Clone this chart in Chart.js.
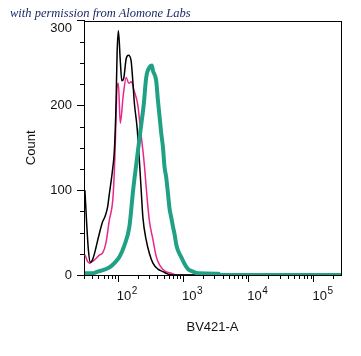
<!DOCTYPE html>
<html><head><meta charset="utf-8">
<script src="https://cdn.jsdelivr.net/npm/chart.js@4.4.1/dist/chart.umd.min.js"></script>
<style>
html,body{margin:0;padding:0;background:#fff;}
#wrap{position:relative;width:361px;height:356px;}
#note{position:absolute;left:10px;top:6px;font:italic 12.5px "Liberation Serif","DejaVu Serif",serif;color:#1b2a66;white-space:nowrap;z-index:2;}
</style></head><body>
<div id="wrap"><canvas id="c" width="361" height="356"></canvas><div id="note">with permission from Alomone Labs</div></div>
<script>
// Channel values (BV421-A) and counts for each histogram
const tealX = [31,40,48.7,60,69.5,80,87.7,105,125,149,170,202,221,248,270,303,330,342,384,408,459,487,516,547,582,616,653,694,735,780,828,931,1047,1181,1409,1683,3455,3700,262144];
const tealY = [2,2,4,6,8,11,14,21.5,35,57,100,147,171,202,233,245,247,241,229,206,167,151,127,115,96,78,68,57,48,36,29,21,13,7,4,2,1.5,0,0];

const blackX = [31,33,35,37.5,40,43,46,51.6,58,63,69,73.5,78,82.8,87.7,93,96.5,101,108,114,122,133,144,158,168,178,195,207,226,240,270,303,342,408,487,582,700,262144];
const blackY = [100,60,30,15,17,24,33,49,63,69,80,96,110,126,147,202,261,288,253,229,232,255,259,253,229,202,175,148,100,68,41,25,14,7,4,1,0,0];

const magX = [31,34,36.5,40,43,51.6,58,65,73.5,82.8,87.7,91,96.5,101,108,120,133,146,160,175,201,220,240,254,279,303,342,384,432,516,653,800,262144];
const magY = [24,16,14,16,17.6,23.5,26,37.6,65,88,123,160,221,226,179,212,233,226,228,218,200,172,147,128,90,63,42,22,12,5,2,0,0];

const xTickValues = [30,40,50,60,70,80,90,100,200,300,400,500,600,700,800,900,1000,2000,3000,4000,5000,6000,7000,8000,9000,10000,20000,30000,40000,50000,60000,70000,80000,90000,100000,200000];
const xMajorValues = [100,1000,10000,100000];
const xMajorBase = '10';
const xMajorExponents = ['2','3','4','5'];
const yMajorValues = [0,100,200,300];

const FONT = '"Liberation Sans", Arial, sans-serif';
const pts = (xs, ys) => xs.map((x, i) => ({x, y: ys[i]}));
const isMajorX = v => xMajorValues.includes(v);
const X_LABEL_OFFSET = 6, X_TICK_LEN = 7, X_TICK_PAD = 7, TICK_FONT = 13;

const extras = {
  id: 'extras',
  afterDraw(chart) {
    const ctx = chart.ctx, xs = chart.scales.x, ys = chart.scales.y, a = chart.chartArea;
    ctx.save();
    ctx.strokeStyle = '#000'; ctx.lineWidth = 1;
    ctx.beginPath();
    xs.ticks.forEach(t => {
      if (!isMajorX(t.value)) {
        const p = Math.round(xs.getPixelForValue(t.value)) + 0.5;
        ctx.moveTo(p, Math.round(xs.top)); ctx.lineTo(p, Math.round(xs.top) + 4);
      }
    });
    ys.ticks.forEach(t => {
      if (!yMajorValues.includes(t.value)) {
        const p = Math.round(ys.getPixelForValue(t.value)) + 0.5;
        ctx.moveTo(Math.round(ys.right), p); ctx.lineTo(Math.round(ys.right) - 4, p);
      }
    });
    // frame top and right
    ctx.moveTo(Math.round(a.left), Math.round(a.top) + 0.5);
    ctx.lineTo(Math.round(a.right) + 1, Math.round(a.top) + 0.5);
    ctx.moveTo(Math.round(a.right) + 0.5, Math.round(a.top));
    ctx.lineTo(Math.round(a.right) + 0.5, Math.round(a.bottom) + 1);
    ctx.stroke();
    // superscript exponents after the "10" tick labels
    ctx.font = '10px ' + FONT;
    ctx.fillStyle = '#111';
    ctx.textAlign = 'left';
    ctx.textBaseline = 'middle';
    ctx.font = TICK_FONT + 'px ' + FONT;
    const baseW = ctx.measureText(xMajorBase).width;
    ctx.font = '10px ' + FONT;
    const cy = xs.top + X_TICK_LEN + X_TICK_PAD + TICK_FONT * 1.2 / 2;
    xMajorValues.forEach((v, i) => {
      const px = xs.getPixelForValue(v) + X_LABEL_OFFSET + baseW / 2 + 0.5;
      ctx.fillText(xMajorExponents[i], px, cy - 6);
    });
    ctx.restore();
  }
};

new Chart(document.getElementById('c'), {
  type: 'line',
  data: {
    datasets: [
      {label: 'Stained', data: pts(tealX, tealY), borderColor: '#20a185', borderWidth: 4, clip: 0},
      {label: 'Control', data: pts(blackX, blackY), borderColor: '#000000', borderWidth: 1.5, clip: 0},
      {label: 'Isotype', data: pts(magX, magY), borderColor: '#e8268e', borderWidth: 1.5, clip: 0}
    ]
  },
  options: {
    responsive: false, animation: false, devicePixelRatio: 1,
    layout: {padding: {left: 0, right: 20, top: 20, bottom: 0}},
    plugins: {legend: {display: false}, tooltip: {enabled: false}},
    elements: {point: {radius: 0}, line: {cubicInterpolationMode: 'monotone', fill: false}},
    scales: {
      x: {
        type: 'logarithmic', min: 30, max: 262144,
        afterBuildTicks: s => { s.ticks = xTickValues.map(v => ({value: v})); },
        afterFit: s => { s.height = 81; },
        ticks: {
          autoSkip: false, maxRotation: 0, minRotation: 0, labelOffset: X_LABEL_OFFSET, padding: X_TICK_PAD,
          color: '#111', font: {family: FONT, size: TICK_FONT},
          callback: v => isMajorX(v) ? xMajorBase : ''
        },
        grid: {drawOnChartArea: false, tickLength: X_TICK_LEN, tickColor: c => (c.tick && isMajorX(c.tick.value)) ? '#000' : 'rgba(0,0,0,0)'},
        border: {color: '#000', width: 1},
        title: {display: true, text: 'BV421-A', color: '#111', font: {family: FONT, size: 13}, padding: {top: 0, bottom: 21}}
      },
      y: {
        min: 0, max: 300,
        afterFit: s => { s.width = 84; },
        ticks: {
          stepSize: 25, autoSkip: false, padding: 5,
          color: '#111', font: {family: FONT, size: TICK_FONT},
          callback: v => v === 300 ? ['', '300'] : (yMajorValues.includes(v) ? String(v) : '')
        },
        grid: {drawOnChartArea: false, tickLength: 7, tickColor: c => (c.tick && yMajorValues.includes(c.tick.value)) ? '#000' : 'rgba(0,0,0,0)'},
        border: {color: '#000', width: 1},
        title: {display: true, text: 'Count', color: '#111', font: {family: FONT, size: 13}, padding: {top: 24, bottom: 0}}
      }
    }
  },
  plugins: [extras]
});
</script>
</body></html>
